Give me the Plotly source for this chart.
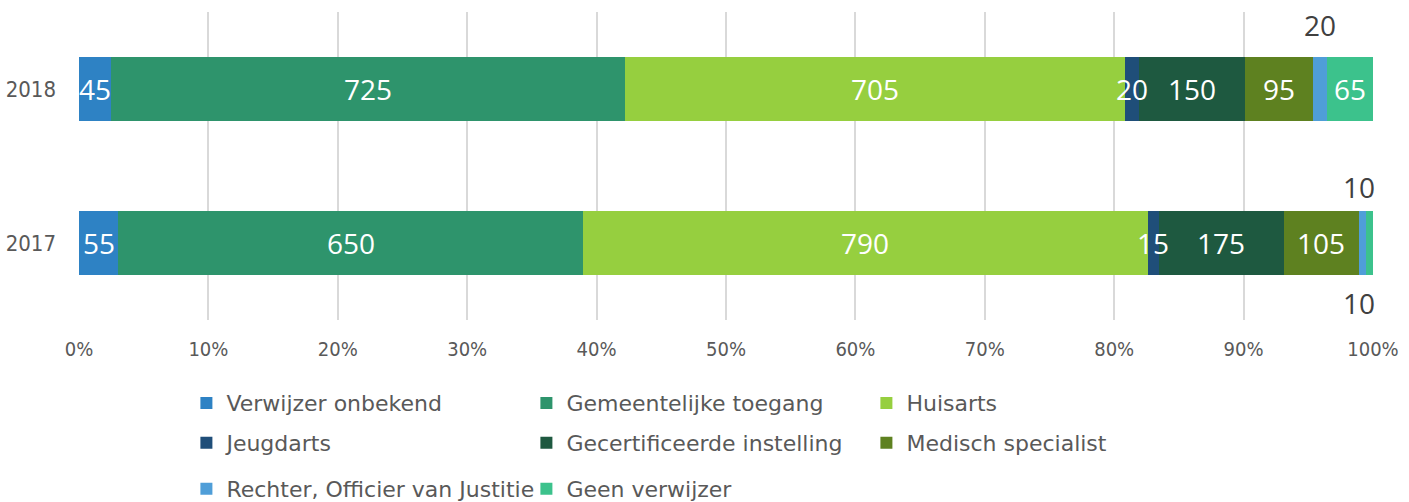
import plotly.graph_objects as go

years = ["2017", "2018"]
series_names = ["Verwijzer onbekend", "Gemeentelijke toegang", "Huisarts",
                "Jeugdarts", "Gecertificeerde instelling", "Medisch specialist",
                "Rechter, Officier van Justitie", "Geen verwijzer"]
values_2017 = [55, 650, 790, 15, 175, 105, 10, 10]
values_2018 = [45, 725, 705, 20, 150, 95, 20, 65]
colors = ["#2E82C4", "#2E946C", "#96CF3F", "#1F4E79",
          "#1E5940", "#5E8120", "#4F9ED8", "#3CC28C"]
tick_vals = [0, 10, 20, 30, 40, 50, 60, 70, 80, 90, 100]
tick_text = ["0%", "10%", "20%", "30%", "40%", "50%", "60%", "70%", "80%", "90%", "100%"]

# labels placed outside the bar: (series index, year index) -> (xshift, yshift)
outside_labels = {(6, 1): (0, 64), (6, 0): (-3, 56), (7, 0): (-10, -60)}

legend_for = ["legend", "legend", "legend",
              "legend2", "legend2", "legend2",
              "legend3", "legend3"]

fig = go.Figure()
vals = [values_2017, values_2018]
for i, name in enumerate(series_names):
    xs = [vals[0][i], vals[1][i]]
    fig.add_trace(go.Bar(
        y=[0, 1], x=xs, name=name, orientation="h",
        marker=dict(color=colors[i], line=dict(width=0)),
        width=0.41, legend=legend_for[i], hoverinfo="x+name",
    ))

# data labels centred on each segment (percent-normalised positions)
totals = [sum(values_2017), sum(values_2018)]
for yi in range(2):
    v = vals[yi]
    for si in range(len(series_names)):
        cum = sum(v[:si])
        center = (cum + v[si] / 2) / totals[yi] * 100
        xs_, ys_ = outside_labels.get((si, yi), (0, 0))
        color = "#404040" if (si, yi) in outside_labels else "white"
        fig.add_annotation(x=center, y=yi, text=str(v[si]), showarrow=False,
                           xshift=xs_, yshift=ys_,
                           font=dict(size=28, color=color, family="Open Sans"))

legend_common = dict(orientation="h", xanchor="left", yanchor="middle",
                     yref="container",
                     entrywidth=295, entrywidthmode="pixels",
                     font=dict(size=22, color="#595959", family="DejaVu Sans"),
                     bgcolor="rgba(0,0,0,0)", itemclick=False, itemdoubleclick=False,
                     traceorder="normal")

fig.update_layout(
    barmode="stack", barnorm="percent",
    width=1409, height=502,
    margin=dict(l=79, r=36, t=12, b=182),
    paper_bgcolor="white", plot_bgcolor="white",
    xaxis=dict(range=[0, 100], tickvals=tick_vals, ticktext=tick_text,
               showgrid=True, gridcolor="#D9D9D9", gridwidth=2,
               zeroline=False, showline=False, ticks="", ticklabelstandoff=15,
               automargin=False,
               tickfont=dict(size=20, color="#595959", family="DejaVu Sans Condensed")),
    yaxis=dict(range=[-0.5, 1.5], tickvals=[0, 1], ticktext=years,
               showgrid=False, zeroline=False, ticks="", showline=False,
               ticklabelstandoff=22, automargin=False,
               tickfont=dict(size=22, color="#595959", family="DejaVu Sans Condensed")),
    legend=dict(x=0.083, y=0.197, **legend_common),
    legend2=dict(x=0.083, y=0.1175, **legend_common),
    legend3=dict(x=0.083, y=0.026, **legend_common),
    showlegend=True,
)

fig.write_html("out.html")
